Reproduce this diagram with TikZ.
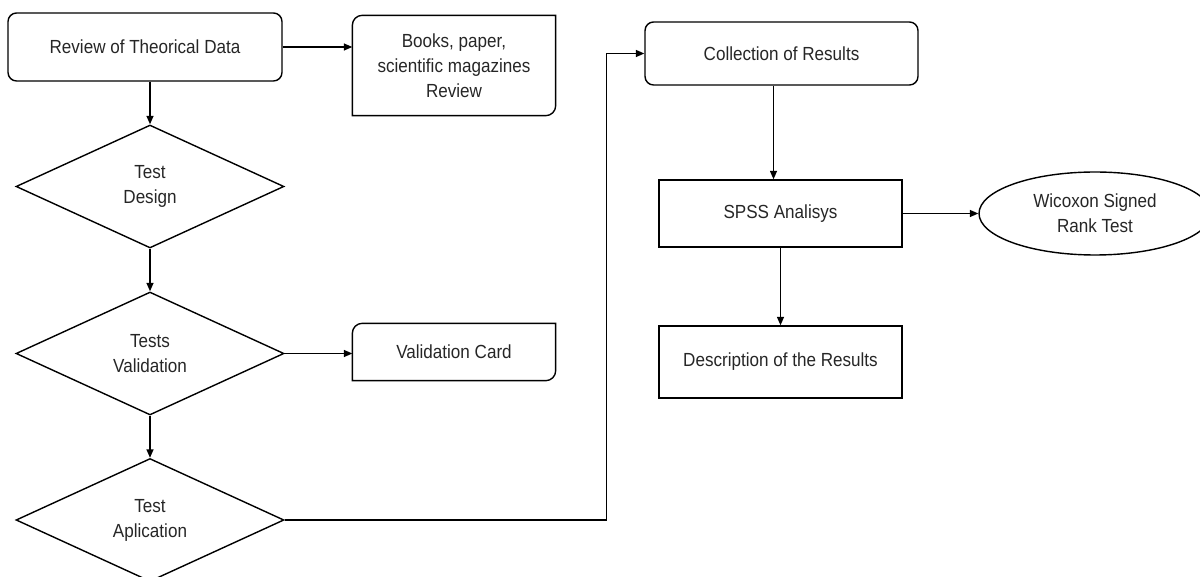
\documentclass[tikz,border=0pt]{standalone}
\usepackage{fontspec}
\setmainfont[FakeStretch=0.9]{Liberation Sans}
\usetikzlibrary{shapes.geometric,arrows.meta}

\begin{document}
\begin{tikzpicture}[x = 0.02cm, y = -0.02cm, line width = 0.8pt,
    >={Triangle[length=0.17cm, width=0.14cm]},
    txt/.style = {font=\fontsize{10.8pt}{14.2pt}\selectfont, text=black!85, align=center, inner sep=0pt},
    rbox/.style = {txt, draw, rounded corners=0.17cm, minimum width=5.48cm, minimum height=1.36cm},
    dbox/.style = {txt, minimum width=4.04cm},
    sbox/.style = {txt, draw, minimum width=4.86cm, minimum height=1.34cm},
    dia/.style = {txt, draw, diamond, aspect=2, minimum width=5.36cm, minimum height=2.46cm},
    ell/.style = {txt, draw, ellipse, minimum width=4.64cm, minimum height=1.66cm}]
        \clip (0, 0) rectangle (1200, 577);

        % left column
        \node [rbox] (rev) at (145, 47) {Review of Theorical Data};
        \node [dia] (td) at (150, 186.5) {Test\\Design};
        \node [dia] (tv) at (150, 353.5) {Tests\\Validation};
        \node [dia] (ta) at (150, 520) {Test\\Aplication};

        % side boxes, round on two corners
        \node [dbox, minimum height=1.98cm] (bk) at (454, 65.5) {Books, paper,\\scientific magazines\\Review};
        \node [dbox, minimum height=1.12cm] (vc) at (454, 352) {Validation Card};
        \foreach \b in {bk, vc}
          \draw (\b.south west) -- ([yshift=-0.2cm]\b.north west)
            arc [start angle=180, end angle=90, radius=0.2cm] -- (\b.north east)
            -- ([yshift=0.2cm]\b.south east)
            arc [start angle=0, end angle=-90, radius=0.2cm] -- cycle;

        % right column
        \node [rbox, minimum width=5.46cm, minimum height=1.26cm] (cr) at (781.5, 53.5) {Collection of Results};
        \node [sbox] (sp) at (780.5, 213.5) {SPSS Analisys};
        \node [sbox, minimum height=1.44cm] (ds) at (780.5, 362) {Description of the Results};
        \node [ell] (wc) at (1095, 213.5) {Wicoxon Signed\\Rank Test};

        \draw [->] (rev.east) -- (rev.east -| bk.west);
        \draw [->] (td.north |- rev.south) -- (td.north);
        \draw [->] (td.south) -- (tv.north);
        \draw [->] (tv.east) -- (tv.east -| vc.west);
        \draw [->] (tv.south) -- (ta.north);
        \draw [->] (ta.east) -| ([xshift=-0.76cm]cr.west) -- (cr.west);
        \draw [->] ([xshift=-0.16cm]cr.south) -- ([xshift=-0.16cm]cr.south |- sp.north);
        \draw [->] (sp.east) -- (wc.west);
        \draw [->] (sp.south) -- (ds.north);

      \end{tikzpicture}
\end{document}
